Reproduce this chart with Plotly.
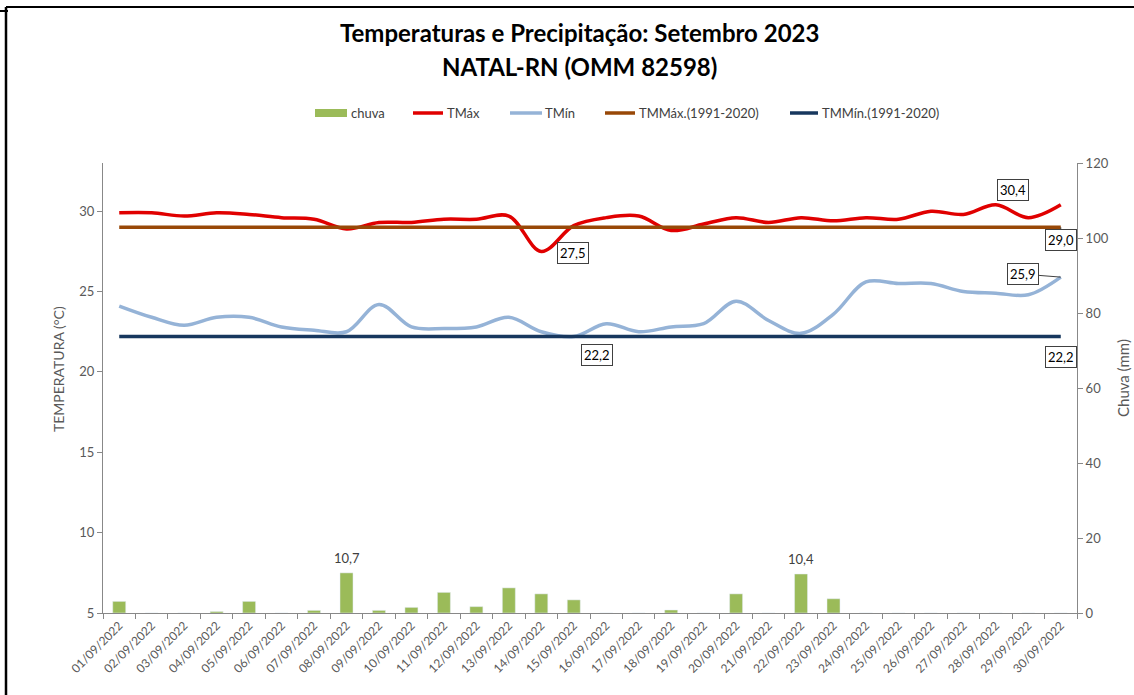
import plotly.graph_objects as go

days = [f"{d:02d}/09/2022" for d in range(1, 31)]
chuva = [3.1, 0, 0, 0.4, 3.1, 0, 0.7, 10.7, 0.7, 1.5, 5.5, 1.7, 6.7, 5.1, 3.5,
         0, 0, 0.8, 0, 5.1, 0, 10.4, 3.8, 0, 0, 0, 0, 0, 0, 0]
tmax = [29.9, 29.9, 29.7, 29.9, 29.8, 29.6, 29.5, 28.9, 29.3, 29.3, 29.5, 29.5, 29.7, 27.5, 29.1,
        29.6, 29.7, 28.8, 29.2, 29.6, 29.3, 29.6, 29.4, 29.6, 29.5, 30.0, 29.8, 30.4, 29.6, 30.4]
tmin = [24.1, 23.4, 22.9, 23.4, 23.4, 22.8, 22.6, 22.5, 24.2, 22.8, 22.7, 22.8, 23.4, 22.5, 22.2,
        23.0, 22.5, 22.8, 23.0, 24.4, 23.2, 22.4, 23.6, 25.6, 25.5, 25.5, 25.0, 24.9, 24.8, 25.9]
tmmax_normal = [29.0] * 30
tmmin_normal = [22.2] * 30

series_names = ["chuva", "TMáx", "TMín", "TMMáx.(1991-2020)", "TMMín.(1991-2020)"]
series_colors = ["#9BBB59", "#E00000", "#95B3D7", "#984807", "#17375E"]

FONT = "Lato"
GREY = "#595959"

# plot area in pixels
L, R, T, B = 103, 1077, 163, 613
W, H = R - L, B - T
def px(x): return (x - L) / W
def py(y): return (B - y) / H

fig = go.Figure()
fig.add_trace(go.Bar(x=days, y=chuva, name=series_names[0], marker_color=series_colors[0],
                     width=0.4, yaxis="y2"))
fig.add_trace(go.Scatter(x=days, y=tmax, name=series_names[1], mode="lines",
                         line=dict(color=series_colors[1], width=3.5, shape="spline", smoothing=1)))
fig.add_trace(go.Scatter(x=days, y=tmin, name=series_names[2], mode="lines",
                         line=dict(color=series_colors[2], width=3.5, shape="spline", smoothing=1)))
fig.add_trace(go.Scatter(x=days, y=tmmax_normal, name=series_names[3], mode="lines",
                         line=dict(color=series_colors[3], width=3.5)))
fig.add_trace(go.Scatter(x=days, y=tmmin_normal, name=series_names[4], mode="lines",
                         line=dict(color=series_colors[4], width=3.5)))

ann = []
# titles
for txt, yy in [("<b>Temperaturas e Precipitação: Setembro 2023</b>", 33),
                ("<b>NATAL-RN (OMM 82598)</b>", 66)]:
    ann.append(dict(text=txt, xref="paper", yref="paper", x=px(579), y=py(yy),
                    xanchor="center", yanchor="middle", showarrow=False,
                    font=dict(size=24, color="#000", family=FONT)))

# axis titles
ann.append(dict(text="TEMPERATURA (°C)", xref="paper", yref="paper", x=px(58), y=py(369),
                xanchor="center", yanchor="middle", textangle=-90, showarrow=False,
                font=dict(size=14, color=GREY, family=FONT)))
ann.append(dict(text="Chuva (mm)", xref="paper", yref="paper", x=px(1123), y=py(378),
                xanchor="center", yanchor="middle", textangle=-90, showarrow=False,
                font=dict(size=15, color=GREY, family=FONT)))

def boxed(text, xi, yv, ax, ay, leader=True):
    return dict(text=text, x=days[xi], y=yv, xref="x", yref="y", showarrow=True,
                arrowhead=0, arrowwidth=1,
                arrowcolor="#404040" if leader else "rgba(0,0,0,0)", ax=ax, ay=ay,
                bordercolor="#404040", borderwidth=1, borderpad=2, bgcolor="white",
                font=dict(size=13, color="#000", family=FONT))

ann.append(boxed("27,5", tmax.index(27.5), 27.5, 32, 2, leader=False))
ann.append(boxed("30,4", 27, 30.4, 17, -15, leader=False))
ann.append(boxed("29,0", 29, 29.0, 0, 13))
ann.append(boxed("25,9", 29, 25.9, -38, -3))
ann.append(boxed("22,2", 14, 22.2, 23, 18))
ann.append(boxed("22,2", 29, 22.2, 0, 20, leader=False))
# bar labels
for i, v in enumerate(chuva):
    if v >= 10:
        ann.append(dict(text=f"{v:.1f}".replace(".", ","), x=days[i], y=v, xref="x", yref="y2",
                        showarrow=False, yshift=15, font=dict(size=13, color="#404040", family=FONT)))

# manual legend (Excel style)
LEG_Y = 113
leg_items = [  # (symbol x0, x1, text x)
    (315, 347, 349), (413, 443, 445), (510, 542, 543), (605, 635, 637), (790, 818, 820)]
shapes = []
for k, (x0, x1, tx) in enumerate(leg_items):
    if k == 0:
        shapes.append(dict(type="rect", xref="paper", yref="paper", x0=px(x0), x1=px(x1),
                           y0=py(LEG_Y + 4), y1=py(LEG_Y - 4), fillcolor=series_colors[k],
                           line=dict(width=0)))
    else:
        shapes.append(dict(type="line", xref="paper", yref="paper", x0=px(x0), x1=px(x1),
                           y0=py(LEG_Y), y1=py(LEG_Y), line=dict(color=series_colors[k], width=3.5)))
    ann.append(dict(text=series_names[k], xref="paper", yref="paper", x=px(tx), y=py(LEG_Y),
                    xanchor="left", yanchor="middle", showarrow=False,
                    font=dict(size=13, color="#404040", family=FONT)))

# outer frame fragments
shapes += [
    dict(type="line", xref="paper", yref="paper", x0=px(6), x1=px(1134), y0=py(7), y1=py(7),
         line=dict(color="black", width=2)),
    dict(type="line", xref="paper", yref="paper", x0=px(6), x1=px(6), y0=py(7), y1=py(695),
         line=dict(color="black", width=2.5)),
    dict(type="line", xref="paper", yref="paper", x0=px(0), x1=px(8), y0=py(11), y1=py(11),
         line=dict(color="black", width=2)),
]

fig.update_layout(
    width=1134, height=695,
    margin=dict(l=L, r=1134 - R, t=T, b=695 - B, autoexpand=False),
    paper_bgcolor="white", plot_bgcolor="white",
    font=dict(family=FONT, color=GREY, size=12),
    annotations=ann,
    shapes=shapes,
    showlegend=False,
    bargap=0.6,
    xaxis=dict(type="category", range=[-0.5, 29.5], tickangle=-45, showline=True,
               linecolor="#888", linewidth=1, ticks="outside", tickson="boundaries",
               ticklen=5, tickcolor="#888", showgrid=False, zeroline=False,
               tickfont=dict(size=12, color=GREY, family=FONT)),
    yaxis=dict(range=[5, 33], dtick=5, tick0=5, showline=True, linecolor="#888", linewidth=1,
               ticks="outside", ticklen=5, tickcolor="#888", showgrid=False, zeroline=False,
               tickfont=dict(size=13, color=GREY, family=FONT)),
    yaxis2=dict(range=[0, 120], dtick=20, overlaying="y", side="right", showline=True,
                linecolor="#888", linewidth=1, ticks="outside", ticklen=5, tickcolor="#888",
                showgrid=False, zeroline=False,
                tickfont=dict(size=13, color=GREY, family=FONT)),
)

fig.write_html("out.html", config={"displayModeBar": False},
               post_script="document.body.style.margin='0';document.body.style.overflow='hidden';")
